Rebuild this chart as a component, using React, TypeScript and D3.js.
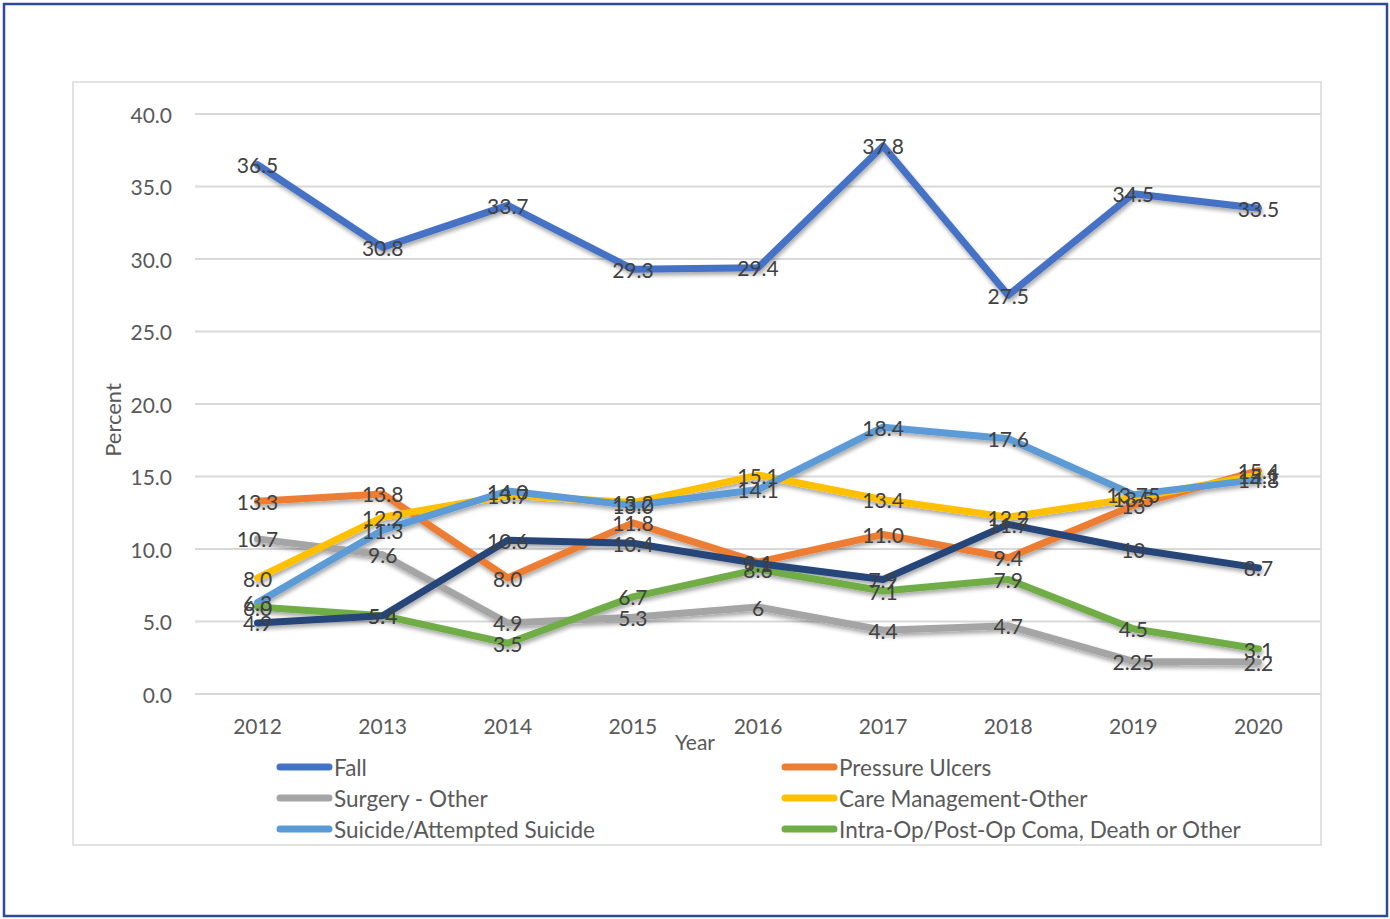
import React from "react";
import * as d3 from "d3";

const years = ["2012", "2013", "2014", "2015", "2016", "2017", "2018", "2019", "2020"];
const yTicks = [0, 5, 10, 15, 20, 25, 30, 35, 40];

const fall = [36.5, 30.8, 33.7, 29.3, 29.4, 37.8, 27.5, 34.5, 33.5];
const pressureUlcers = [13.3, 13.8, 8.0, 11.8, 9.1, 11.0, 9.4, 13, 15.4];
const surgeryOther = [10.7, 9.6, 4.9, 5.3, 6, 4.4, 4.7, 2.25, 2.2];
const careManagement = [8.0, 12.2, 13.7, 13.2, 15.1, 13.4, 12.2, 13.5, 15.1];
const suicide = [6.3, 11.3, 14.0, 13.0, 14.1, 18.4, 17.6, 13.75, 14.8];
const intraOp = [6.0, 5.4, 3.5, 6.7, 8.6, 7.1, 7.9, 4.5, 3.1];
const otherSeries = [4.9, 5.4, 10.6, 10.4, 9.0, 7.9, 11.7, 10, 8.7];

const fallLabels = ["36.5", "30.8", "33.7", "29.3", "29.4", "37.8", "27.5", "34.5", "33.5"];
const pressureLabels = ["13.3", "13.8", "8.0", "11.8", "9.1", "11.0", "9.4", "13", "15.4"];
const surgeryLabels = ["10.7", "9.6", "4.9", "5.3", "6", "4.4", "4.7", "2.25", "2.2"];
const careLabels = ["8.0", "12.2", "13.7", "13.2", "15.1", "13.4", "12.2", "13.5", "15.1"];
const suicideLabels = ["6.3", "11.3", "14.0", "13.0", "14.1", "18.4", "17.6", "13.75", "14.8"];
const intraLabels = ["6.0", "5.4", "3.5", "6.7", "8.6", "7.1", "7.9", "4.5", "3.1"];
const otherLabels = ["4.9", "5.4", "10.6", "10.4", "9.1", "7.9", "11.7", "10", "8.7"];

const series = [
  { name: "Fall", values: fall, labels: fallLabels, color: "#4472C4", legend: true },
  { name: "Pressure Ulcers", values: pressureUlcers, labels: pressureLabels, color: "#ED7D31", legend: true },
  { name: "Surgery - Other", values: surgeryOther, labels: surgeryLabels, color: "#A5A5A5", legend: true },
  { name: "Care Management-Other", values: careManagement, labels: careLabels, color: "#FFC000", legend: true },
  { name: "Suicide/Attempted Suicide", values: suicide, labels: suicideLabels, color: "#5B9BD5", legend: true },
  { name: "Intra-Op/Post-Op Coma, Death or Other", values: intraOp, labels: intraLabels, color: "#70AD47", legend: true },
  { name: "Other", values: otherSeries, labels: otherLabels, color: "#264478", legend: false },
];

export default function App() {
  const W = 1390, H = 919;
  const plotLeft = 195, plotRight = 1321, plotTop = 114, plotBottom = 694;
  const x = d3.scalePoint<string>().domain(years).range([plotLeft, plotRight]).padding(0.5);
  const y = d3.scaleLinear().domain([0, 40]).range([plotBottom, plotTop]);
  const line = d3.line<number>().x((_, i) => x(years[i])!).y((d) => y(d));
  const font = "Lato, 'Open Sans', sans-serif";
  const legendItems = series.filter((s) => s.legend);

  return (
    <svg width={W} height={H} style={{ position: "absolute", left: 0, top: 0, background: "#fff" }} fontFamily={font}>
      <defs>
        <filter id="sh" x="-10%" y="-10%" width="120%" height="130%">
          <feGaussianBlur in="SourceAlpha" stdDeviation="2" />
          <feOffset dx="1" dy="3" result="b" />
          <feComponentTransfer><feFuncA type="linear" slope="0.35" /></feComponentTransfer>
          <feMerge><feMergeNode /><feMergeNode in="SourceGraphic" /></feMerge>
        </filter>
      </defs>
      <rect x={4} y={4} width={1383} height={912} fill="#fff" stroke="#2E4A9A" strokeWidth={2.5} />
      <rect x={73} y={82} width={1248} height={763} fill="#fff" stroke="#D9D9D9" strokeWidth={1.5} />
      {yTicks.map((t) => (
        <g key={t}>
          <line x1={plotLeft} x2={plotRight} y1={y(t)} y2={y(t)} stroke="#D9D9D9" strokeWidth={2} />
          <text x={172} y={y(t)} textAnchor="end" dominantBaseline="central" fontSize={21} fill="#595959">
            {t.toFixed(1)}
          </text>
        </g>
      ))}
      {years.map((yr) => (
        <text key={yr} x={x(yr)} y={725} textAnchor="middle" dominantBaseline="central" fontSize={21} fill="#595959">
          {yr}
        </text>
      ))}
      <text x={695} y={741} textAnchor="middle" dominantBaseline="central" fontSize={21} fill="#595959">Year</text>
      <text transform={`translate(112,420) rotate(-90)`} textAnchor="middle" dominantBaseline="central" fontSize={22} fill="#595959">Percent</text>
      <g filter="url(#sh)">
        {series.map((s) => (
          <path key={s.name} d={line(s.values)!} fill="none" stroke={s.color} strokeWidth={7} strokeLinecap="round" strokeLinejoin="round" />
        ))}
      </g>
      {series.map((s) =>
        s.values.map((v, i) => (
          <text key={s.name + i} x={x(years[i])} y={y(v)} textAnchor="middle" dominantBaseline="central" fontSize={21} fill="#404040">
            {s.labels[i]}
          </text>
        ))
      )}
      {legendItems.map((s, i) => {
        const col = i % 2, row = Math.floor(i / 2);
        const lx = col === 0 ? 277 : 782;
        const ly = 767 + row * 31;
        return (
          <g key={s.name}>
            <line x1={lx + 3} x2={lx + 52} y1={ly} y2={ly} stroke={s.color} strokeWidth={7} strokeLinecap="round" />
            <text x={lx + 57} y={ly} dominantBaseline="central" fontSize={22.5} fill="#595959">{s.name}</text>
          </g>
        );
      })}
    </svg>
  );
}
